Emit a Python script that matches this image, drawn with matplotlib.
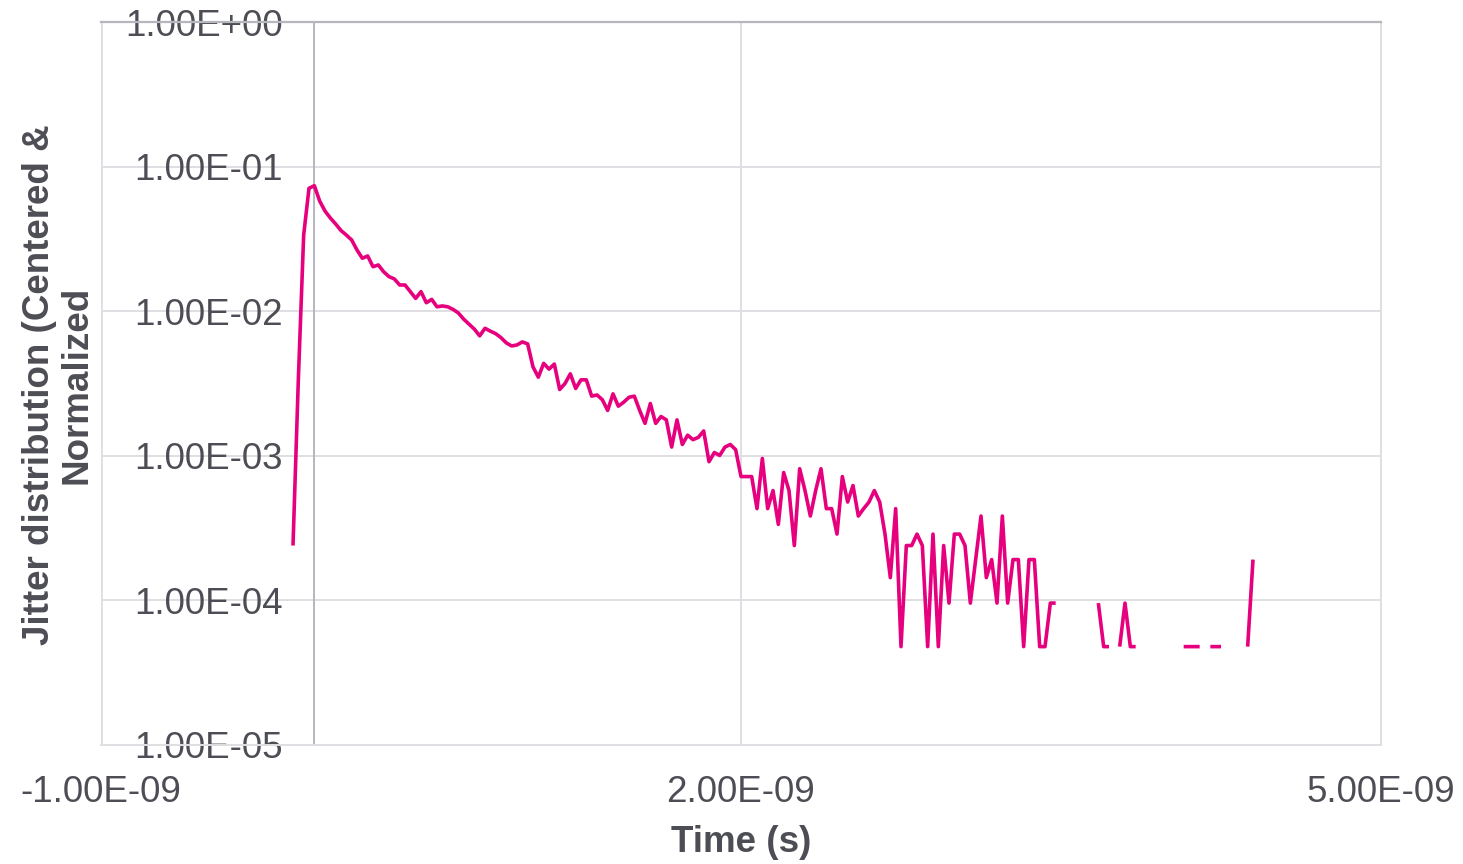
import numpy as np
import matplotlib
matplotlib.use("Agg")
import matplotlib.pyplot as plt
from matplotlib.ticker import FixedLocator, FixedFormatter, NullLocator

# Histogram of jitter: counts per 25 ps bin, starting at -0.1 ns
time_start = -0.1e-9
time_step = 0.025e-9
counts = [
    5, 70, 702, 1478, 1540, 1207, 1029, 921, 837, 754,
    702, 649, 553, 485, 503, 424, 436, 391, 362, 349,
    317, 317, 285, 256, 285, 239, 252, 224, 227, 224,
    215, 203, 184, 170, 157, 141, 159, 152, 146, 137,
    126, 120, 122, 128, 124, 86, 73, 91, 83, 90,
    60, 66, 77, 61, 70, 70, 54, 55, 51, 43,
    56, 46, 49, 53, 54, 43, 35, 48, 35, 39,
    37, 24, 37, 25, 29, 27, 28, 31, 19, 22,
    21, 24, 25, 23, 15, 15, 15, 9, 20, 9,
    12, 7, 16, 12, 5, 17, 12, 8, 12, 17,
    9, 9, 6, 15, 10, 13, 8, 9, 10, 12,
    10, 6, 3, 9, 1, 5, 5, 6, 5, 1,
    6, 1, 5, 2, 6, 6, 5, 2, 4, 8,
    3, 4, 2, 8, 2, 4, 4, 1, 4, 4,
    1, 1, 2, 2, 0, 0, 0, 0, 0, 0,
    0, 2, 1, 1, 0, 1, 2, 1, 1, 0,
    0, 0, 0, 0, 0, 0, 0, 1, 1, 1,
    1, 0, 1, 1, 1, 0, 0, 0, 0, 1,
    4,
]
total_counts = 20877  # normalisation: one count = 4.79e-5

x_ticks = [-1e-9, 2e-9, 5e-9]
x_tick_labels = ["-1.00E-09", "2.00E-09", "5.00E-09"]
y_ticks = [1e-5, 1e-4, 1e-3, 1e-2, 1e-1, 1e0]
y_tick_labels = ["1.00E-05", "1.00E-04", "1.00E-03", "1.00E-02", "1.00E-01", "1.00E+00"]

counts_arr = np.array(counts, dtype=float)
times = time_start + time_step * np.arange(len(counts_arr))
values = counts_arr / total_counts
values[counts_arr == 0] = np.nan  # empty bins leave gaps on the log axis

plt.rcParams["font.family"] = ["Liberation Sans", "DejaVu Sans"]
text_color = "#4d4d55"
grid_color = "#dedee3"
axis_color = "#b6b6be"
line_color = "#e6007e"

W, H = 1463, 864
fig = plt.figure(figsize=(W / 100, H / 100), dpi=100)
ax = fig.add_axes([101 / W, 1 - 745 / H, (1381 - 101) / W, (745 - 22) / H])

ax.set_yscale("log")
ax.set_xlim(x_ticks[0], x_ticks[-1])
ax.set_ylim(y_ticks[0], y_ticks[-1])

ax.xaxis.set_major_locator(FixedLocator(x_ticks))
ax.xaxis.set_major_formatter(FixedFormatter(x_tick_labels))
ax.xaxis.set_minor_locator(NullLocator())
ax.yaxis.set_major_locator(FixedLocator(y_ticks))
ax.yaxis.set_major_formatter(FixedFormatter(y_tick_labels))
ax.yaxis.set_minor_locator(NullLocator())

ax.grid(True, which="major", color=grid_color, linewidth=1.4, zorder=0)
ax.set_axisbelow(True)

# Vertical axis crosses at t = 0
ax.spines["left"].set_position(("data", 0))
ax.spines["left"].set_color(axis_color)
ax.spines["left"].set_linewidth(1.4)
ax.spines["top"].set_color(axis_color)
ax.spines["top"].set_linewidth(1.6)
for side in ("right", "bottom"):
    ax.spines[side].set_color(grid_color)
    ax.spines[side].set_linewidth(1.4)

# Edge gridline at the left limit
ax.axvline(x_ticks[0], color=grid_color, linewidth=2.0, zorder=0.5)

ax.tick_params(axis="both", length=0, labelsize=26.5, labelcolor=text_color)
ax.tick_params(axis="y", pad=23)
ax.tick_params(axis="x", pad=21.5)

ax.plot(times, values, color=line_color, linewidth=2.6,
        solid_joinstyle="round", solid_capstyle="butt", zorder=3)

fig.text(741 / W, 1 - 843 / H, "Time (s)", ha="center", va="center",
         fontsize=26.5, fontweight="bold", color=text_color)
fig.text(58 / W, 1 - 385 / H, "Jitter distribution (Centered &\nNormalized",
         ha="center", va="center", rotation=90, multialignment="center",
         fontsize=26.5, fontweight="bold", color=text_color, linespacing=1.1)

fig.savefig("out.png", dpi=100)
